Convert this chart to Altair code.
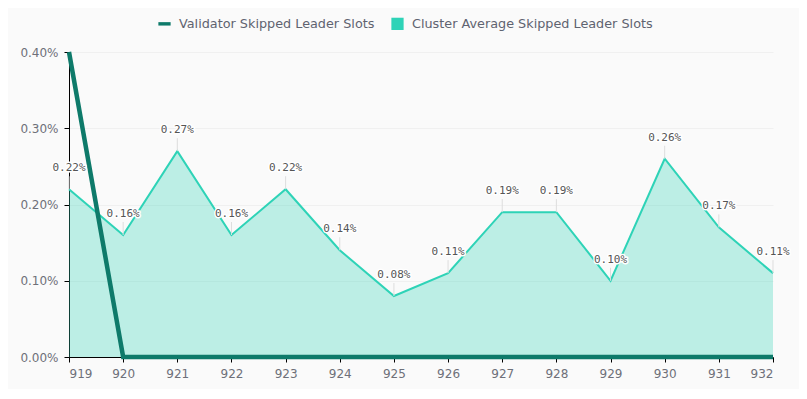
import altair as alt
import pandas as pd

slots = [919, 920, 921, 922, 923, 924, 925, 926, 927, 928, 929, 930, 931, 932]
validator = [0.40, 0, 0, 0, 0, 0, 0, 0, 0, 0, 0, 0, 0, 0]
cluster = [0.22, 0.16, 0.27, 0.16, 0.22, 0.14, 0.08, 0.11, 0.19, 0.19, 0.10, 0.26, 0.17, 0.11]
series_names = ["Validator Skipped Leader Slots", "Cluster Average Skipped Leader Slots"]

dv = pd.DataFrame({"slot": slots, "value": validator, "series": series_names[0]})
dc = pd.DataFrame({"slot": slots, "value": cluster, "series": series_names[1]})
dc["label"] = [f"{v:.2f}%" for v in cluster]
dall = pd.concat([dv, dc], ignore_index=True)

x_enc = alt.X("slot:Q", scale=alt.Scale(domain=[919, 932], nice=False, zero=False),
              axis=alt.Axis(values=slots, format="d", title=None, grid=False,
                            domainColor="#000", tickColor="#000", tickSize=5,
                            labelColor="#6e7079", labelFont="DejaVu Sans", labelFontSize=12,
                            labelPadding=6))
y_enc = alt.Y("value:Q", scale=alt.Scale(domain=[0, 0.4], nice=False),
              axis=alt.Axis(values=[0, 0.1, 0.2, 0.3, 0.4], labelExpr="format(datum.value, '.2f') + '%'",
                            title=None, grid=True, gridColor="#f0f0f0",
                            domainColor="#000", tickColor="#000", tickSize=5,
                            labelColor="#6e7079", labelFont="DejaVu Sans", labelFontSize=12,
                            labelPadding=6))

area = alt.Chart(dc).mark_area(color="#2ed3b7", fillOpacity=0.3, line=False).encode(x=x_enc, y=y_enc)
cline = alt.Chart(dc).mark_line(color="#2ed3b7", strokeWidth=2).encode(x="slot:Q", y="value:Q")
leader = alt.Chart(dc).mark_rule(color="#dddddd", strokeWidth=1, y2Offset=-13).encode(
    x="slot:Q", y="value:Q", y2="value:Q")
halo = alt.Chart(dc).mark_text(font="DejaVu Sans Mono", fontSize=11, dy=-21, stroke="white",
                               strokeWidth=3, strokeJoin="round", color="white").encode(
    x="slot:Q", y="value:Q", text="label:N")
txt = alt.Chart(dc).mark_text(font="DejaVu Sans Mono", fontSize=11, dy=-21, color="#555555").encode(
    x="slot:Q", y="value:Q", text="label:N")
vline = alt.Chart(dv).mark_line(color="#0e7a6a", strokeWidth=4.5, strokeCap="butt").encode(
    x="slot:Q", y="value:Q")

leg = alt.Legend(title=None, orient="none", legendX=89, legendY=-35,
                 direction="horizontal", labelFont="DejaVu Sans",
                 labelFontSize=12.8, labelColor="#5f6370", labelLimit=0,
                 symbolOpacity=1, symbolSize=150, columnPadding=16,
                 labelOffset=8, symbolStrokeWidth=0)

legend_pts = alt.Chart(dall).mark_point(opacity=0, filled=True).encode(
    x="slot:Q", y="value:Q",
    color=alt.Color("series:N", scale=alt.Scale(domain=series_names, range=["#0e7a6a", "#2ed3b7"]),
                    legend=leg),
    shape=alt.Shape("series:N", scale=alt.Scale(domain=series_names,
                                                range=["M-1,-0.28H1V0.28H-1Z", "square"]),
                    legend=leg),
)

chart = alt.layer(area, cline, vline, leader, halo, txt, legend_pts).properties(
    width=704, height=305,
    background="#fafafa",
    padding={"left": 61, "top": 44, "right": 26, "bottom": 32},
    autosize=alt.AutoSizeParams(type="none"),
).configure_view(stroke=None)

chart.save("out.html", embed_options={"renderer": "svg", "actions": False})
